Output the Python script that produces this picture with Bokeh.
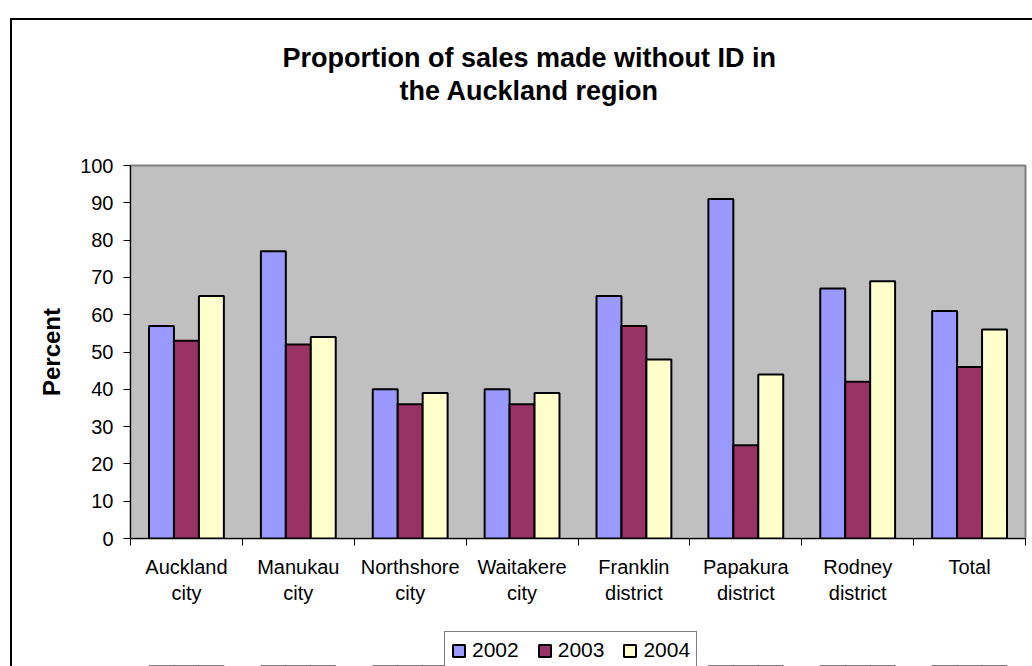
from bokeh.plotting import figure
from bokeh.layouts import column
from bokeh.models import (Range1d, LinearAxis, FixedTicker, Legend, LegendItem, Title)
from bokeh.embed import file_html
from bokeh.resources import INLINE
import numpy as np

categories = ["Auckland\ncity", "Manukau\ncity", "Northshore\ncity", "Waitakere\ncity",
              "Franklin\ndistrict", "Papakura\ndistrict", "Rodney\ndistrict", "Total"]
years = ["2002", "2003", "2004"]
values_2002 = [57, 77, 40, 40, 65, 91, 67, 61]
values_2003 = [53, 52, 36, 36, 57, 25, 42, 46]
values_2004 = [65, 54, 39, 39, 48, 44, 69, 56]
colors = ["#9999FF", "#993366", "#FFFFCC"]
y_ticks = list(range(0, 101, 10))
title_lines = ["Proportion of sales made without ID in", "the Auckland region"]

FONT = "Liberation Sans"

chart = figure(frame_width=895, frame_height=373, output_backend="svg", toolbar_location=None,
               x_range=Range1d(0, len(categories)), y_range=Range1d(0, 100),
               x_axis_type=None, y_axis_type=None,
               min_border_left=118, min_border_right=7, min_border_top=145, min_border_bottom=85)

chart.background_fill_color = "#C0C0C0"
chart.border_fill_color = "white"
chart.outline_line_color = "#808080"
chart.outline_line_width = 2

# stacked from the frame outward: spacer, second line, first line
chart.add_layout(Title(text=" ", text_font_size="1px", standoff=56), "above")
chart.add_layout(Title(text=title_lines[1], align="left", offset=269, standoff=2,
                       text_font=FONT, text_font_size="27px", text_font_style="bold",
                       text_color="black"), "above")
chart.add_layout(Title(text=title_lines[0], align="left", offset=152, standoff=0,
                       text_font=FONT, text_font_size="27px", text_font_style="bold",
                       text_color="black"), "above")

bw = 0.223
centers = np.arange(len(categories)) + 0.5
series = [values_2002, values_2003, values_2004]
for j, (vals, col) in enumerate(zip(series, colors)):
    chart.vbar(x=centers + (j - 1) * bw, top=vals, bottom=0, width=bw,
               fill_color=col, line_color="black", line_width=2)

yaxis = LinearAxis(ticker=FixedTicker(ticks=y_ticks, minor_ticks=[]),
                   axis_label="Percent", axis_label_text_font=FONT,
                   axis_label_text_font_size="24px", axis_label_text_font_style="bold",
                   axis_label_text_color="black", axis_label_standoff=12,
                   major_label_text_font=FONT, major_label_text_font_size="20px",
                   major_label_text_color="black", major_label_standoff=10,
                   major_tick_out=7, major_tick_in=0, minor_tick_out=0, minor_tick_in=0,
                   axis_line_color="black", major_tick_line_color="black")
chart.add_layout(yaxis, "left")

xaxis = LinearAxis(ticker=FixedTicker(ticks=list(centers), minor_ticks=list(range(len(categories) + 1))),
                   major_label_overrides={float(c): lab for c, lab in zip(centers, categories)},
                   major_label_text_font=FONT, major_label_text_font_size="20px",
                   major_label_text_color="black", major_label_text_line_height=1.2,
                   major_label_standoff=10,
                   major_tick_out=0, major_tick_in=0, minor_tick_out=7, minor_tick_in=0,
                   axis_line_color="black", minor_tick_line_color="black")
chart.add_layout(xaxis, "below")

# legend strip below the chart (same series, kept outside its visible range)
leg = figure(frame_width=895, frame_height=43, output_backend="svg", toolbar_location=None,
             x_range=Range1d(0, len(categories)), y_range=Range1d(200, 300),
             x_axis_type=None, y_axis_type=None,
             min_border_left=118, min_border_right=7, min_border_top=0, min_border_bottom=0)
leg.background_fill_color = "white"
leg.border_fill_color = "white"
leg.outline_line_color = None
leg_renderers = []
for j, (vals, col) in enumerate(zip(series, colors)):
    leg_renderers.append(leg.vbar(x=centers + (j - 1) * bw, top=vals, bottom=0, width=bw,
                                  fill_color=col, line_color="black", line_width=2))

legend = Legend(items=[LegendItem(label=y, renderers=[r]) for y, r in zip(years, leg_renderers)],
                location=(314, -3), orientation="horizontal",
                label_text_font=FONT, label_text_font_size="21px", label_text_color="black",
                glyph_width=15, glyph_height=15, label_standoff=6, spacing=18,
                padding=6, margin=0, border_line_color="black", border_line_width=1,
                background_fill_color="white", background_fill_alpha=1)
leg.add_layout(legend, "center")

p = column(chart, leg, spacing=0)
p.margin = (18, 0, 0, 10)
p.styles = {"border-left": "2px solid black", "border-top": "2px solid black"}

open("out.html", "w").write(file_html(p, INLINE))
